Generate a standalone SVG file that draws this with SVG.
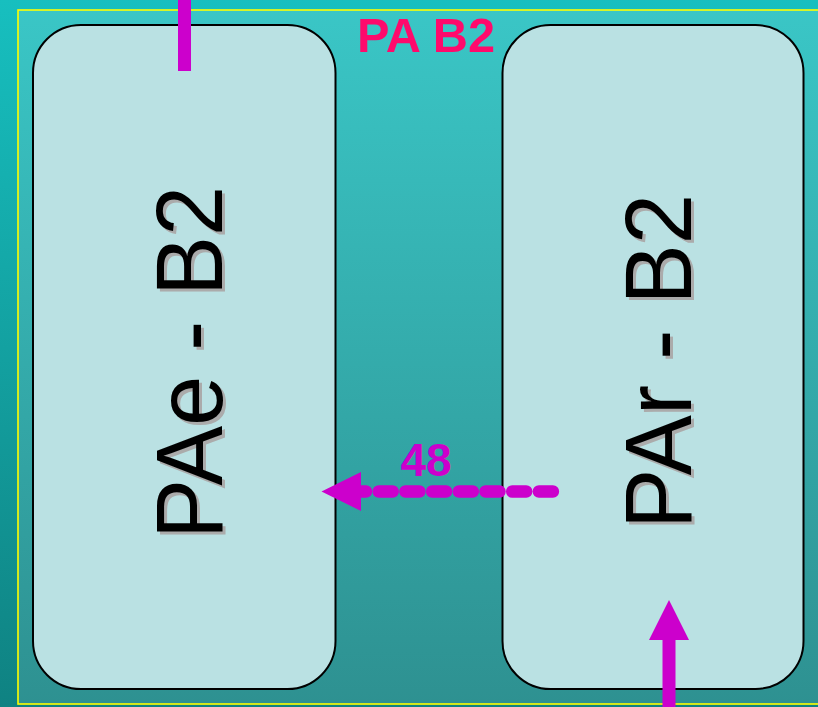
<svg xmlns="http://www.w3.org/2000/svg" width="818" height="707" viewBox="0 0 818 707">
<style>
.box{fill:#BAE1E3;stroke:#000;stroke-width:2}
.big{font-family:"Liberation Sans",Arial,sans-serif;font-size:95px}
.shadow{fill:#ABABAB}
.label{fill:#000}
.mag{fill:#CC00CC}
</style>
<defs>
<linearGradient id="bgOut" x1="0" y1="0" x2="0" y2="1">
<stop offset="0" stop-color="#17BFBF"/>
<stop offset="1" stop-color="#0F8282"/>
</linearGradient>
<linearGradient id="bgIn" x1="0" y1="0" x2="0" y2="1">
<stop offset="0" stop-color="#3AC6C6"/>
<stop offset="1" stop-color="#2E9191"/>
</linearGradient>
</defs>
<rect x="0" y="0" width="818" height="707" fill="url(#bgOut)"/>
<rect x="18" y="10" width="820" height="694" fill="url(#bgIn)" stroke="#FFFF00" stroke-width="1.6"/>
<text x="426" y="51.5" text-anchor="middle" font-family="'Liberation Sans',Arial,sans-serif" font-weight="bold" font-size="48" fill="#FF0A6C" textLength="138" lengthAdjust="spacingAndGlyphs">PA B2</text>
<g id="node-PAe">
<rect class="box" x="33" y="25" width="302.5" height="664" rx="48" ry="48"/>
<g class="big">
<text class="shadow" transform="translate(225,542) rotate(-90)" textLength="353" lengthAdjust="spacingAndGlyphs">PAe - B2</text>
<text class="label" transform="translate(222,539) rotate(-90)" textLength="353" lengthAdjust="spacingAndGlyphs">PAe - B2</text>
</g>
</g>
<g id="node-PAr">
<rect class="box" x="502.5" y="25" width="301" height="664" rx="48" ry="48"/>
<g class="big">
<text class="shadow" transform="translate(694,532) rotate(-90)" textLength="335" lengthAdjust="spacingAndGlyphs">PAr - B2</text>
<text class="label" transform="translate(691,529) rotate(-90)" textLength="335" lengthAdjust="spacingAndGlyphs">PAr - B2</text>
</g>
</g>
<g id="connectors">
<rect class="mag" x="178" y="0" width="13" height="71"/>
<line x1="352" y1="491.5" x2="553" y2="491.5" stroke="#CC00CC" stroke-width="12.5" stroke-linecap="round" stroke-dasharray="14 12.7"/>
<polygon class="mag" points="321.5,491.5 361,472 361,511"/>
<text x="426" y="476" text-anchor="middle" font-family="'Liberation Sans',Arial,sans-serif" font-weight="bold" font-size="46" fill="#CC00CC">48</text>
<rect class="mag" x="662.5" y="638" width="13" height="69"/>
<polygon class="mag" points="669,600 689,640 649,640"/>
</g>
</svg>
